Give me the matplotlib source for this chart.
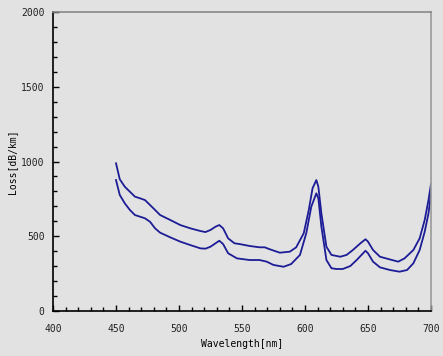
import matplotlib
matplotlib.use("Agg")
import matplotlib.pyplot as plt
from matplotlib.ticker import MultipleLocator

wl_upper = [450, 453, 457, 461, 465, 469, 473, 477, 481, 485, 493, 501, 509, 517, 521, 525,
            529, 532, 535, 539, 544, 548, 556, 564, 568, 572, 580, 588, 593, 599, 603, 606,
            609, 610.6, 613, 617, 621, 628, 633, 638, 644, 648, 650, 654, 659.5, 666, 674,
            679, 686, 691, 695, 698, 700]
loss_upper = [988, 881, 831, 798, 765, 754, 742, 709, 676, 642, 609, 575, 553, 535, 528, 542,
              564, 575, 553, 486, 453, 448, 435, 426, 426, 413, 390, 397, 426, 520, 676, 821,
              876, 831, 653, 430, 375, 363, 375, 408, 453, 480, 464, 408, 363, 348, 330,
              352, 408, 486, 609, 742, 849]

wl_lower = [450, 453, 457, 461, 465, 469, 473, 477, 481, 485, 493, 501, 509, 517, 521, 525,
            529, 532, 535, 539, 546, 556, 564, 569.6, 575, 583, 589, 596, 601, 605, 609,
            610.6, 613, 617, 621, 625, 630, 636, 641, 648, 650, 654, 659.5, 667.5, 675, 681,
            686, 691, 695, 698, 700]
loss_lower = [876, 776, 720, 676, 642, 631, 620, 597, 553, 524, 493, 464, 441, 419, 417, 430,
              453, 470, 448, 386, 352, 341, 341, 330, 308, 296, 314, 375, 520, 698, 787,
              754, 564, 341, 286, 281, 281, 301, 341, 403, 386, 330, 292, 274, 263, 274,
              319, 408, 530, 653, 787]

x_ticks = [400, 450, 500, 550, 600, 650, 700]
y_ticks = [0, 500, 1000, 1500, 2000]

bg = "#e2e2e2"
fig = plt.figure(figsize=(4.43, 3.56), dpi=100, facecolor=bg)
ax = fig.add_axes([53/443, 1-311/356, (431-53)/443, (311-12)/356], facecolor=bg)

col = "#1c1c96"
ax.plot(wl_upper, loss_upper, color=col, lw=1.3)
ax.plot(wl_lower, loss_lower, color=col, lw=1.3)

ax.set_xlim(400, 700)
ax.set_ylim(0, 2000)
ax.set_xticks(x_ticks)
ax.set_yticks(y_ticks)
ax.xaxis.set_minor_locator(MultipleLocator(10))
ax.yaxis.set_minor_locator(MultipleLocator(100))
ax.tick_params(which="major", direction="in", length=4, width=1, labelsize=7,
               colors="black")
ax.tick_params(axis="x", which="major", pad=9)
ax.tick_params(axis="y", which="major", pad=6)
ax.tick_params(which="minor", direction="in", length=3, width=1)
ax.tick_params(axis="x", which="both", top=False)
ax.tick_params(axis="y", which="both", right=False)
for lab in ax.get_xticklabels() + ax.get_yticklabels():
    lab.set_family("DejaVu Sans Mono")
    lab.set_color("#222222")

ax.spines["left"].set_color("black")
ax.spines["bottom"].set_color("black")
ax.spines["top"].set_color("#888888")
ax.spines["right"].set_color("#999999")
for s in ax.spines.values():
    s.set_linewidth(1.2)

ax.set_xlabel("Wavelength[nm]", fontsize=7, family="DejaVu Sans Mono", labelpad=4)
ax.set_ylabel("Loss[dB/km]", fontsize=7, family="DejaVu Sans Mono", labelpad=3)

fig.savefig("out.png", dpi=100, facecolor=bg)
